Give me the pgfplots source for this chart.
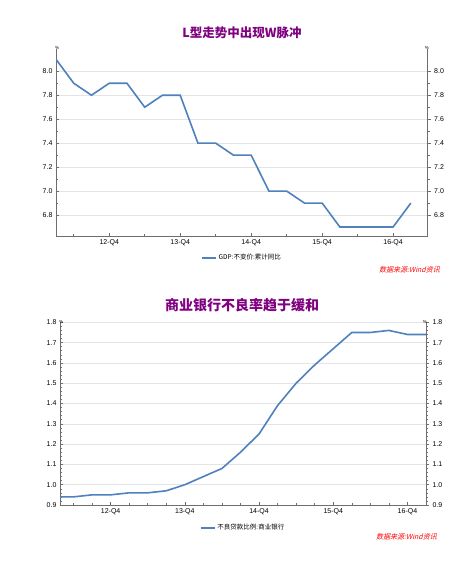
\documentclass[border=0pt]{standalone}
\usepackage{fontspec}
\setmainfont{Liberation Sans}
\newfontfamily\cjk{Noto Sans CJK SC}
\newfontfamily\cjkit[FakeSlant=0.25]{Noto Sans CJK SC}
\usepackage{pgfplots}
\pgfplotsset{compat=1.18}
\definecolor{ttl}{RGB}{128,0,128}
\definecolor{ln}{RGB}{79,129,189}
\definecolor{axgray}{RGB}{110,110,110}
\definecolor{gridc}{RGB}{228,228,228}
\definecolor{srcred}{RGB}{255,0,0}

\pgfplotstableread{
x y
0 8.1
1 7.9
2 7.8
3 7.9
4 7.9
5 7.7
6 7.8
7 7.8
8 7.4
9 7.4
10 7.3
11 7.3
12 7.0
13 7.0
14 6.9
15 6.9
16 6.7
17 6.7
18 6.7
19 6.7
20 6.9
}\gdpdata

\pgfplotstableread{
x y
0 0.94
1 0.94
2 0.95
3 0.95
4 0.96
5 0.96
6 0.97
7 1.00
8 1.04
9 1.08
10 1.16
11 1.25
12 1.39
13 1.50
14 1.59
15 1.67
16 1.75
17 1.75
18 1.76
19 1.74
20 1.74
}\npldata

\pgfplotsset{
  base/.style={
    scale only axis,
    anchor=south west,
    ticklabel style={font=\fontsize{7}{8}\selectfont, text=black},
    /pgf/number format/assume math mode=true,
    yticklabel style={/pgf/number format/.cd, fixed, fixed zerofill, precision=1},
    axis line style={-, draw=axgray, line width=0.8pt},
    major tick style={draw=axgray, line width=0.6pt},
    minor tick style={draw=axgray, line width=0.5pt},
    major tick length=3pt,
    minor tick length=2pt,
    xtick={3,7,11,15,19},
    xticklabels={12-Q4,13-Q4,14-Q4,15-Q4,16-Q4},
  },
  leftax/.style={
    base,
    axis lines*=left,
    tick align=inside,
    ymajorgrids,
    grid style={gridc, line width=0.6pt},
    legend style={draw=none, fill=none, font=\cjk\fontsize{6.5}{7}\selectfont,
      anchor=north, legend cell align=left, inner sep=0pt},
    legend image code/.code={\draw[ln, line width=1.8pt] (0pt,0pt) -- (14pt,0pt);},
  },
  rightax/.style={
    base,
    axis x line=none,
    axis y line*=right,
    tick align=outside,
  },
}

\begin{document}
\begin{tikzpicture}[x=1pt,y=1pt]
\fill[white] (0,0) rectangle (449,572);
\useasboundingbox (0,0) rectangle (449,572);

% ---------- Top chart ----------
\node[text=ttl, font=\cjk\bfseries\fontsize{12.5}{14}\selectfont] at (242,539) {L型走势中出现W脉冲};
\begin{axis}[leftax, at={(56pt,336pt)}, width=371.7pt, height=187pt,
  xmin=0, xmax=20.95, ymin=6.625, ymax=8.186,
  minor xtick={1,5,9,13,17},
  ytick={6.8,7.0,7.2,7.4,7.6,7.8,8.0}, minor y tick num=1,
  legend style={at={(0.5,-0.085)}}]
\addplot[ln, line width=1.6pt] table[x=x,y=y] {\gdpdata};
\addlegendentry{GDP:不变价:累计同比}
\end{axis}
\begin{axis}[rightax, at={(56pt,336pt)}, width=371.7pt, height=187pt,
  xmin=0, xmax=20.95, ymin=6.625, ymax=8.186,
  ytick={6.8,7.0,7.2,7.4,7.6,7.8,8.0}, minor y tick num=1]
\end{axis}
\node[font=\fontsize{4.5}{5}\selectfont, anchor=south west, inner sep=0pt] at (55,522) {\%};
\node[font=\fontsize{4.5}{5}\selectfont, anchor=south east, inner sep=0pt] at (429,522) {\%};
\node[text=srcred, font=\cjkit\fontsize{7}{8}\selectfont, anchor=east, inner sep=0pt] at (440,302) {数据来源:Wind资讯};

% ---------- Bottom chart ----------
\node[text=ttl, font=\cjk\bfseries\fontsize{14}{15}\selectfont] at (242,267) {商业银行不良率趋于缓和};
\begin{axis}[leftax, at={(60pt,67pt)}, width=366pt, height=182.7pt,
  xmin=0.27, xmax=20, ymin=0.9, ymax=1.8,
  minor xtick={1,2,4,5,6,8,9,10,12,13,14,16,17,18},
  ytick={0.9,1.0,1.1,1.2,1.3,1.4,1.5,1.6,1.7,1.8}, minor y tick num=4,
  legend style={at={(0.5,-0.093)}}]
\addplot[ln, line width=1.6pt] table[x=x,y=y] {\npldata};
\addlegendentry{不良贷款比例:商业银行}
\end{axis}
\begin{axis}[rightax, at={(60pt,67pt)}, width=366pt, height=182.7pt,
  xmin=0.27, xmax=20, ymin=0.9, ymax=1.8,
  ytick={0.9,1.0,1.1,1.2,1.3,1.4,1.5,1.6,1.7,1.8}, minor y tick num=4]
\end{axis}
\node[font=\fontsize{4.5}{5}\selectfont, anchor=south west, inner sep=0pt] at (59,248) {\%};
\node[font=\fontsize{4.5}{5}\selectfont, anchor=south east, inner sep=0pt] at (427,248) {\%};
\node[text=srcred, font=\cjkit\fontsize{7}{8}\selectfont, anchor=east, inner sep=0pt] at (437,35) {数据来源:Wind资讯};
\end{tikzpicture}
\end{document}
